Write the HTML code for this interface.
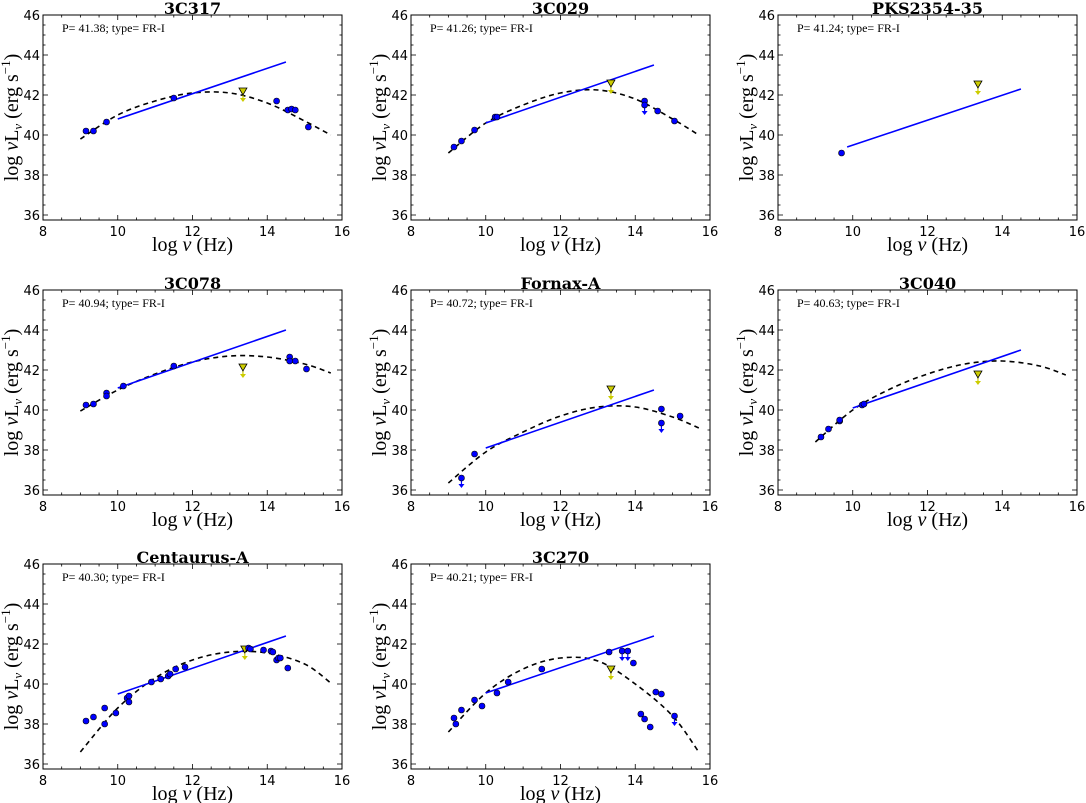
<!DOCTYPE html>
<html><head><meta charset="utf-8"><style>
html,body{margin:0;padding:0;background:#fff;}
svg{display:block;}
.tick{font-family:"DejaVu Sans","Liberation Sans",sans-serif;font-size:13px;fill:#000;}
.ttl{font-family:"DejaVu Serif","Liberation Serif",serif;font-weight:bold;font-size:16px;}
.lab{font-family:"Liberation Serif","DejaVu Serif",serif;font-size:20px;}
.ann{font-family:"Liberation Serif","DejaVu Serif",serif;font-size:12px;}
</style></head><body>
<svg id="fig" width="1086" height="803" viewBox="0 0 1086 803" xmlns="http://www.w3.org/2000/svg"></svg>
<script>
// ---- data ----
const panelNames = ["3C317","3C029","PKS2354-35","3C078","Fornax-A","3C040","Centaurus-A","3C270"];
const panelP = ["41.38","41.26","41.24","40.94","40.72","40.63","40.30","40.21"];
const pts3C317 = [[9.15,40.2],[9.35,40.2],[9.7,40.65],[11.5,41.85],[14.25,41.7],[14.55,41.25],[14.65,41.3],[14.75,41.25],[15.1,40.4]];
const pts3C029 = [[9.15,39.4],[9.35,39.7],[9.7,40.25],[10.25,40.9],[10.3,40.9],[14.25,41.7],[14.6,41.2],[15.05,40.7]];
const ptsPKS = [[9.7,39.1]];
const pts3C078 = [[9.15,40.25],[9.35,40.3],[9.7,40.85],[9.7,40.7],[10.15,41.2],[11.5,42.2],[14.6,42.65],[14.6,42.45],[14.75,42.45],[15.05,42.05]];
const ptsFornax = [[9.7,37.8],[14.7,40.05],[15.2,39.7]];
const pts3C040 = [[9.15,38.65],[9.35,39.05],[9.65,39.45],[9.65,39.5],[10.25,40.25],[10.3,40.3]];
const ptsCenA = [[9.15,38.15],[9.35,38.35],[9.65,38.8],[9.65,38.0],[9.95,38.55],[10.25,39.3],[10.3,39.4],[10.3,39.1],[10.9,40.1],[11.15,40.25],[11.35,40.4],[11.4,40.5],[11.55,40.75],[11.8,40.85],[13.5,41.8],[13.55,41.75],[13.9,41.7],[14.1,41.65],[14.15,41.6],[14.25,41.2],[14.3,41.3],[14.35,41.3],[14.55,40.8]];
const pts3C270 = [[9.15,38.3],[9.2,38.0],[9.35,38.7],[9.7,39.2],[9.9,38.9],[10.3,39.55],[10.6,40.1],[11.5,40.75],[13.3,41.6],[13.95,41.05],[14.15,38.5],[14.25,38.25],[14.4,37.85],[14.55,39.6],[14.7,39.5]];
const ulims = [[],[[14.25,41.5]],[],[],[[9.35,36.6],[14.7,39.35]],[],[],[[13.65,41.65],[13.8,41.65],[15.05,38.4]]];
const triangles = [[13.35,42.15],[13.35,42.55],[13.35,42.5],[13.35,42.1],[13.35,41.0],[13.35,41.75],[13.4,41.7],[13.35,40.7]];
const fitLineX = [10,10,9.85,10,10,10,10,10];
const fitLineY0 = [40.8,40.6,39.4,41.1,38.1,40.1,39.5,39.55];
const fitLineY1 = [43.65,43.5,42.3,44.0,41.0,43.0,42.4,42.4];
const curveX = [9,10,11,12,13,14,15,15.7];
const curve3C317 = [39.8,41.0,41.7,42.1,42.1,41.6,40.7,40.0];
const curve3C029 = [39.1,40.6,41.5,42.1,42.25,41.8,40.8,40.0];
const curve3C078 = [39.95,41.0,41.8,42.4,42.7,42.65,42.3,41.85];
const curveFornax = [36.35,37.9,38.9,39.7,40.15,40.15,39.65,39.1];
const curve3C040 = [38.4,40.0,41.05,41.8,42.3,42.45,42.2,41.75];
const curveCenA = [36.6,38.8,40.3,41.2,41.6,41.55,41.0,40.05];
const curve3C270 = [37.6,39.55,40.75,41.3,41.15,40.0,38.4,36.6];
const xTicks = [8,10,12,14,16];
const yTicks = [36,38,40,42,44,46];

const allPts = [pts3C317,pts3C029,ptsPKS,pts3C078,ptsFornax,pts3C040,ptsCenA,pts3C270];
const allCurves = [curve3C317,curve3C029,null,curve3C078,curveFornax,curve3C040,curveCenA,curve3C270];

const colX = [43,411,778], rowY = [15,290,564];
const W = 299, H = 205, XMIN=8, XMAX=16, YMIN=35.75, YMAX=46;
const svg = document.getElementById('fig');
const NS = 'http://www.w3.org/2000/svg';
function mk(tag, attrs, parent){const e=document.createElementNS(NS,tag);for(const k in attrs)e.setAttribute(k,attrs[k]);(parent||svg).appendChild(e);return e;}

panelNames.forEach((name, i) => {
  const ox = colX[i%3], oy = rowY[Math.floor(i/3)];
  const sx = v => ox + (v-XMIN)/(XMAX-XMIN)*W;
  const sy = v => oy + (YMAX-v)/(YMAX-YMIN)*H;
  const g = mk('g', {});
  
  
  const fr = mk('rect', {x:ox,y:oy,width:W,height:H,fill:'none',stroke:'#000','stroke-width':1}, g);
  
  
  for (let v=8; v<=16.001; v+=0.5) {
    const X=sx(v), L=(Math.abs(v-Math.round(v/2)*2)<1e-6)?5:2.5;
    mk('line',{x1:X,y1:oy+H,x2:X,y2:oy+H-L,stroke:'#000','stroke-width':0.8},g);
    mk('line',{x1:X,y1:oy,x2:X,y2:oy+L,stroke:'#000','stroke-width':0.8},g);
  }
  for (let v=36; v<=46.001; v+=0.5) {
    const Y=sy(v), L=(Math.abs(v-Math.round(v/2)*2)<1e-6)?5:2.5;
    mk('line',{x1:ox,y1:Y,x2:ox+L,y2:Y,stroke:'#000','stroke-width':0.8},g);
    mk('line',{x1:ox+W,y1:Y,x2:ox+W-L,y2:Y,stroke:'#000','stroke-width':0.8},g);
  }
  xTicks.forEach(v => {
    const t = mk('text',{x:sx(v),y:oy+H+16,'text-anchor':'middle',class:'tick'},g); t.textContent=v;
    
    
  });
  yTicks.forEach(v => {
    const t = mk('text',{x:ox-3,y:sy(v)+5,'text-anchor':'end',class:'tick'},g); t.textContent=v;
    
    
  });
  const ti = mk('text',{x:ox+W/2,y:oy-1,'text-anchor':'middle',class:'ttl'},g); ti.textContent=name;
  
  
  const xl = mk('text',{x:ox+W/2,y:oy+H+31,'text-anchor':'middle',class:'lab'},g);
  xl.innerHTML = 'log <tspan font-style="italic">ν</tspan> (Hz)';
  
  
  const yl = mk('text',{x:0,y:0,'text-anchor':'middle',class:'lab',transform:`translate(${ox-25},${oy+H/2}) rotate(-90)`},g);
  yl.innerHTML = 'log <tspan font-style="italic">ν</tspan>L<tspan font-size="13" dy="4" font-style="italic">ν</tspan><tspan dy="-4"> (erg s</tspan><tspan font-size="13" dy="-8">−1</tspan><tspan dy="8">)</tspan>';
  
  
  const an = mk('text',{x:ox+19,y:oy+17,class:'ann'},g); an.textContent='P= '+panelP[i]+'; type= FR-I';
  
  
  const cv = allCurves[i];
  if (cv) {
    const P = curveX.map((x,k)=>[sx(x),sy(cv[k])]);
    let d = 'M'+P[0][0]+','+P[0][1];
    for (let k=0;k<P.length-1;k++){
      const p0=P[Math.max(0,k-1)],p1=P[k],p2=P[k+1],p3=P[Math.min(P.length-1,k+2)];
      const c1=[p1[0]+(p2[0]-p0[0])/6,p1[1]+(p2[1]-p0[1])/6];
      const c2=[p2[0]-(p3[0]-p1[0])/6,p2[1]-(p3[1]-p1[1])/6];
      d+=` C${c1[0]},${c1[1]} ${c2[0]},${c2[1]} ${p2[0]},${p2[1]}`;
    }
    const c = mk('path',{d:d,fill:'none',stroke:'#000','stroke-width':1.6,'stroke-dasharray':'5,4'},g);
    
    
  }
  const fl = mk('line',{x1:sx(fitLineX[i]),y1:sy(fitLineY0[i]),x2:sx(14.5),y2:sy(fitLineY1[i]),stroke:'#0000ff','stroke-width':1.6},g);
  
  
  const tr = triangles[i]; const TX=sx(tr[0]), TY=sy(tr[1]);
  mk('line',{x1:TX,y1:TY,x2:TX,y2:TY+9,stroke:'#cccc00','stroke-width':1.2},g);
  mk('path',{d:`M${TX-3},${TY+6} L${TX+3},${TY+6} L${TX},${TY+10} Z`,fill:'#cccc00'},g);
  const t = mk('path',{d:`M${TX-4},${TY-4} L${TX+4},${TY-4} L${TX},${TY+3} Z`,fill:'#cccc00',stroke:'#000','stroke-width':0.8},g);
  
  
  allPts[i].forEach(p => {
    const c = mk('circle',{cx:sx(p[0]),cy:sy(p[1]),r:3,fill:'#0000ff',stroke:'#000','stroke-width':0.6},g);
    
    
  });
  ulims[i].forEach(p => {
    const X=sx(p[0]), Y=sy(p[1]);
    mk('line',{x1:X,y1:Y,x2:X,y2:Y+9,stroke:'#0000ff','stroke-width':1.2},g);
    mk('path',{d:`M${X-3},${Y+6} L${X+3},${Y+6} L${X},${Y+10} Z`,fill:'#0000ff'},g);
    const c = mk('circle',{cx:X,cy:Y,r:3,fill:'#0000ff',stroke:'#000','stroke-width':0.6},g);
    
    
  });
});
</script>
</body></html>
